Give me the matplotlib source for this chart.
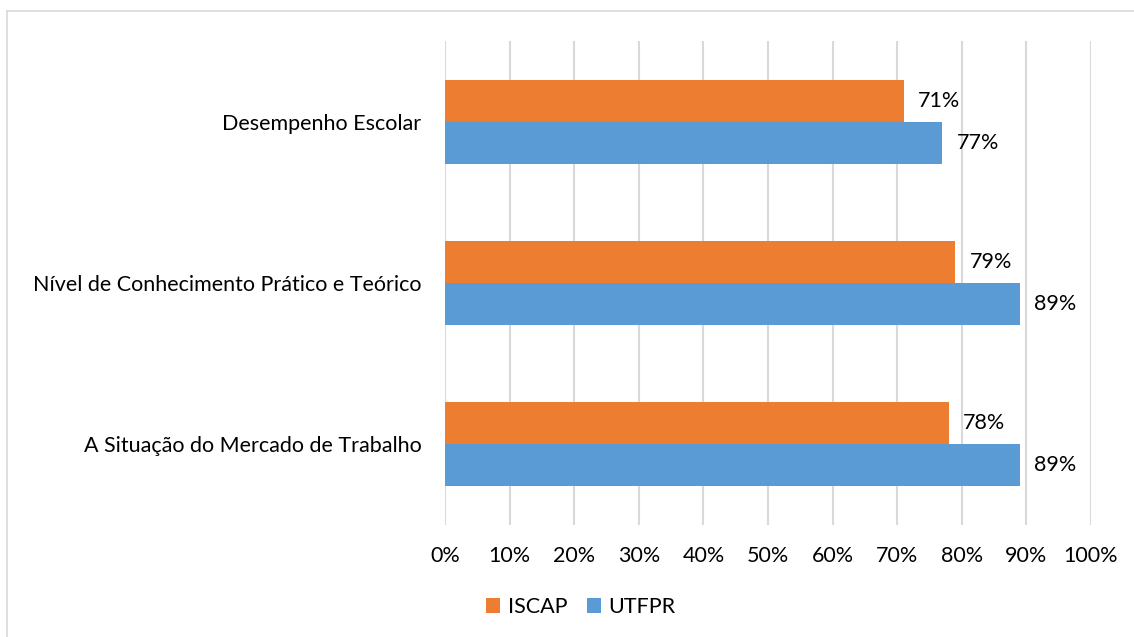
import numpy as np
import matplotlib
matplotlib.use('Agg')
from matplotlib import pyplot as plt
from matplotlib.lines import Line2D

categories = ['A Situação do Mercado de Trabalho',
              'Nível de Conhecimento Prático e Teórico',
              'Desempenho Escolar']
iscap = [78, 79, 71]
utfpr = [89, 89, 77]
ticks = np.arange(0, 101, 10)
tick_labels = ['%d%%' % t for t in ticks]

plt.rcParams['font.family'] = ['Lato', 'DejaVu Sans']
orange = '#ED7D31'
blue = '#5B9BD5'
fs = 15.5

fig = plt.figure(figsize=(11.34, 6.37), dpi=100)
ax = fig.add_axes([445/1134, 1-525/637, (1091-445)/1134, 484/637])

y = np.arange(len(categories))
h = 0.26
ax.barh(y + h/2, iscap, height=h, color=orange, label='ISCAP', zorder=3)
ax.barh(y - h/2, utfpr, height=h, color=blue, label='UTFPR', zorder=3)

# data labels to the right of each bar
for i in range(len(categories)):
    ax.text(iscap[i] + 2.2, y[i] + h/2, '%d%%' % iscap[i], va='center', ha='left', fontsize=fs)
    ax.text(utfpr[i] + 2.2, y[i] - h/2, '%d%%' % utfpr[i], va='center', ha='left', fontsize=fs)

ax.set_xlim(0, 100)
ax.set_ylim(-0.5, 2.5)
ax.set_xticks(ticks)
ax.set_xticklabels(tick_labels, fontsize=fs)
ax.set_yticks(y)
ax.set_yticklabels(categories, fontsize=fs)
ax.tick_params(axis='both', length=0)
ax.tick_params(axis='x', pad=15)
ax.tick_params(axis='y', pad=17)
ax.grid(axis='x', color='#D9D9D9', linewidth=1.5, zorder=0)
for s in ax.spines.values():
    s.set_visible(False)

ax.legend(loc='center', bbox_to_anchor=(581/1134, 1-607/637), bbox_transform=fig.transFigure,
          ncol=2, frameon=False, fontsize=fs, handlelength=0.65, handleheight=0.65,
          handletextpad=0.35, columnspacing=0.9)

# outer chart border (only top and left visible in the crop)
fig.add_artist(Line2D([7/1134, 7/1134], [0, 1-11/637], transform=fig.transFigure, color='#D9D9D9', lw=1.2))
fig.add_artist(Line2D([7/1134, 1], [1-11/637, 1-11/637], transform=fig.transFigure, color='#D9D9D9', lw=1.2))

fig.savefig('out.png', dpi=100)
